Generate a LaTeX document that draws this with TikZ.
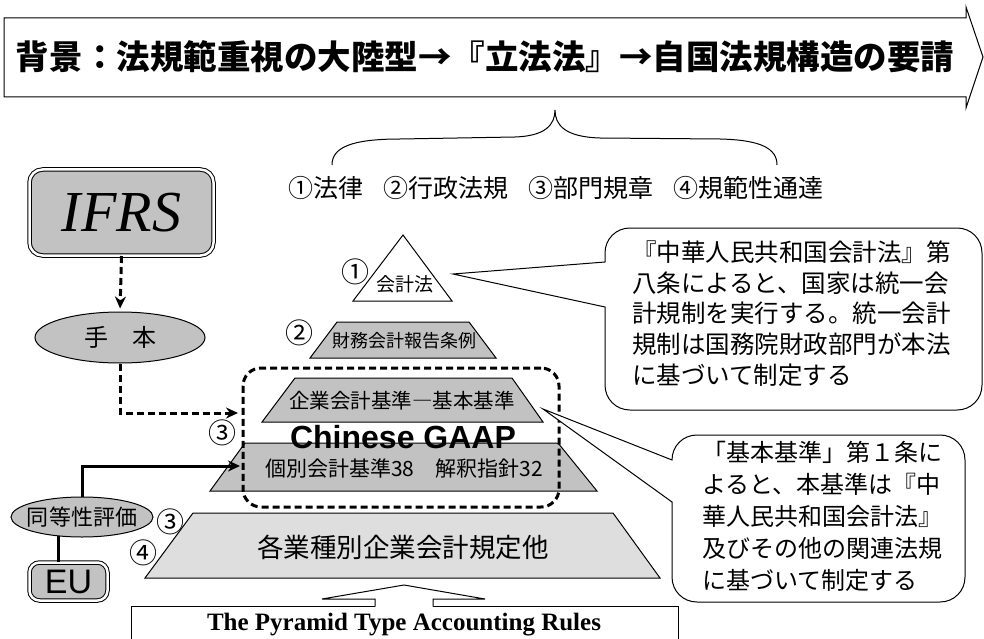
\documentclass[tikz,border=0pt]{standalone}
\usepackage{fontspec}
\setmainfont{Liberation Serif}
\newfontfamily\jp{Noto Sans CJK JP}
\newfontfamily\hel{Liberation Sans}
\usetikzlibrary{shapes.geometric,arrows.meta}
\newcommand\FS[1]{\fontsize{#1}{#1}\selectfont}
\tikzset{
  thinline/.style={line width=1pt},
  shade/.style={fill=black!24},
  lightshade/.style={fill=black!13},
  dblbox/.style={draw, double, double distance=2.5pt, line width=1pt, fill=black!24, rounded corners=13pt, inner sep=0pt},
  grpdash/.style={draw, line width=3pt, dash pattern=on 7pt off 4pt},
  dasharrow/.style={line width=3pt, dash pattern=on 7pt off 4pt, -{Stealth[length=12pt,width=11pt]}},
  solidarrow/.style={line width=3pt, -{Stealth[length=12pt,width=11pt]}},
  circnum/.style={font=\jp\FS{28}, inner sep=0pt},
  layertxt/.style={inner sep=0pt}
}
\begin{document}
\begin{tikzpicture}[x=1pt,y=-1pt]
\useasboundingbox (0,0) rectangle (984,639);
% title block arrow
\draw[thinline, fill=white] (4,18) -- (966,18) -- (966,7) -- (983,57) -- (966,108) -- (966,97) -- (4,97) -- cycle;
\node[font=\jp\bfseries\FS{33.5}, inner sep=0pt] (title) at (485,57) {背景：法規範重視の大陸型→『立法法』→自国法規構造の要請};
% brace
\draw[thinline] (332,165) .. controls (332,148) and (350,139) .. (400,139) -- (515,137) .. controls (545,136) and (555,125) .. (555,110) .. controls (555,125) and (565,137) .. (600,138) -- (720,139) .. controls (760,140) and (777,148) .. (777,165);
\node[font=\jp\FS{25}, inner sep=0pt] (levels) at (556,188) {①法律\hspace{20pt}②行政法規\hspace{20pt}③部門規章\hspace{20pt}④規範性通達};
% IFRS and model
\node[dblbox, minimum width=184pt, minimum height=86pt, font=\itshape\FS{58}] (ifrs) at (121.5,212.5) {IFRS};
\node[ellipse, draw, thinline, shade, minimum width=170pt, minimum height=51pt, inner sep=0pt] (tehon) at (120,337.5) {};
\node[font=\jp\FS{24}, inner sep=0pt] (tehontxt) at (tehon.center) {手　本};
% pyramid
\draw[thinline, fill=white] (403,235) -- (452,301) -- (353,301) -- cycle;
\node[layertxt, font=\jp\FS{19}] (kaikei) at (405,284) {会計法};
\draw[thinline, shade] (337,322) -- (469,322) -- (496,358) -- (310,358) -- cycle;
\node[layertxt, font=\jp\FS{18}] (zaimu) at (404,341) {財務会計報告条例};
\draw[thinline, shade] (295,378) -- (512,378) -- (543,422) -- (262,422) -- cycle;
\node[layertxt, font=\jp\FS{20.5}] (kihon) at (402,401) {企業会計基準―基本基準};
\draw[thinline, shade] (245,443) -- (558,443) -- (597,491) -- (210,491) -- cycle;
\node[layertxt, font=\jp\FS{21}] (kobetsu) at (404,468) {個別会計基準38　解釈指針32};
\draw[thinline, lightshade] (193,513) -- (613,513) -- (660,578) -- (145,578) -- cycle;
\node[layertxt, font=\jp\FS{26.5}] (kaku) at (403,547) {各業種別企業会計規定他};
% group
\node[grpdash, rounded corners=18pt, minimum width=316pt, minimum height=139pt, inner sep=0pt] (gaap) at (401,437.5) {};
\node[font=\hel\bfseries\FS{32}, inner sep=0pt] (cg) at (403,437) {Chinese GAAP};
% circled numbers
\node[circnum] (c1) at (355,272) {①};
\node[circnum] (c2) at (299,333) {②};
\node[circnum] (c3a) at (222,433) {③};
\node[circnum] (c3b) at (170,522) {③};
\node[circnum] (c4) at (143,553) {④};
% equivalence / EU
\node[ellipse, draw, thinline, shade, minimum width=142pt, minimum height=40pt, inner sep=0pt] (doto) at (82,517) {};
\node[font=\jp\FS{22}, inner sep=0pt] (dototxt) at (doto.center) {同等性評価};
\node[dblbox, rounded corners=10pt, minimum width=78pt, minimum height=38pt, font=\hel\FS{34}] (eu) at (68.5,581.5) {EU};
% connectors
\coordinate (a1) at (238,413);
\coordinate (a2) at (240,466);
\draw[dasharrow, shorten >=3pt] (ifrs.south) -- (tehon.north);
\draw[dasharrow] (tehon.south) |- (a1);
\draw[solidarrow] (doto.north) |- (a2);
\draw[line width=3pt] (doto.220) -- (doto.220 |- eu.north);
% bottom box and up arrow
\draw[thinline] (131,645) -- (131,606.5) -- (678,606.5) -- (678,645);
\node[font=\bfseries\FS{25}, inner sep=0pt] (rules) at (404,625) {The Pyramid Type Accounting Rules};
\fill[white] (375,608) -- (375,599) -- (322,599) -- (404,585) -- (485,599) -- (433,599) -- (433,608) -- cycle;
\draw[thinline] (375,606.5) -- (375,599) -- (322,599) -- (404,585) -- (485,599) -- (433,599) -- (433,606.5);
% callout 1
\draw[thinline, fill=white] (453,274) -- (605,262) -- (605,253) .. controls (605,239) and (616,228) .. (630,228) -- (957,228) .. controls (971,228) and (982,239) .. (982,253) -- (982,385) .. controls (982,399) and (971,410) .. (957,410) -- (630,410) .. controls (616,410) and (605,399) .. (605,385) -- (605,307) -- cycle;
\node[font=\jp\fontsize{24.5}{30.75}\selectfont, align=left, inner sep=0pt, anchor=west] (note1) at (632,313.5) {『中華人民共和国会計法』第\\八条によると、国家は統一会\\計規制を実行する。統一会計\\規制は国務院財政部門が本法\\に基づいて制定する};
% callout 2
\draw[thinline, fill=white] (543,409) -- (672,460) .. controls (672,446) and (683,435) .. (697,435) -- (940,435) .. controls (954,435) and (965,446) .. (965,460) -- (965,577) .. controls (965,591) and (954,602) .. (940,602) -- (697,602) .. controls (683,602) and (672,591) .. (672,577) -- (672,502) -- cycle;
\node[font=\jp\fontsize{24}{32}\selectfont, align=left, inner sep=0pt, anchor=west] (note2) at (702,516) {「基本基準」第１条に\\よると、本基準は『中\\華人民共和国会計法』\\及びその他の関連法規\\に基づいて制定する};
\end{tikzpicture}
\end{document}
